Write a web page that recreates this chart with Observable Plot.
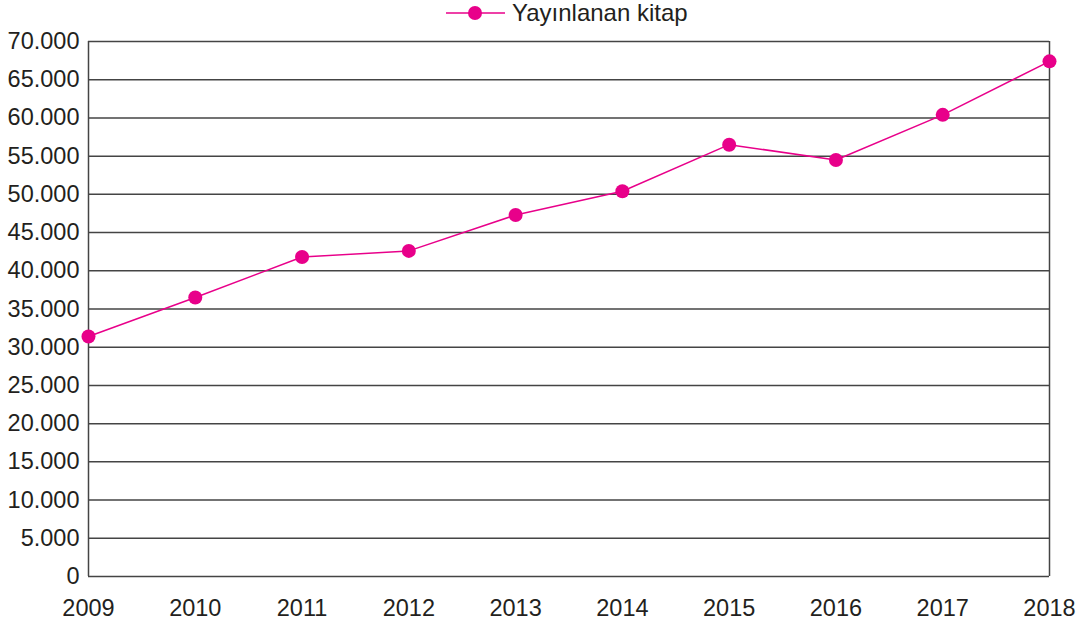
<!DOCTYPE html>
<html><head><meta charset="utf-8">
<script src="https://cdn.jsdelivr.net/npm/d3@7"></script>
<script src="https://cdn.jsdelivr.net/npm/@observablehq/plot@0.6"></script>
<style>
body{margin:0;background:#fff;font-family:"Liberation Sans",Arial,sans-serif;}
#legend{height:28px;position:relative;}
#legend span{position:absolute;left:512px;top:-1px;font-size:24px;color:#231f20;white-space:nowrap;}
</style></head><body>
<div id="legend"><svg width="510" height="28" style="position:absolute;left:0;top:0"><line x1="446" x2="505" y1="13" y2="13" stroke="#e8008a" stroke-width="1.5"/><circle cx="475" cy="13" r="7" fill="#e8008a"/></svg><span>Yayınlanan kitap</span></div>
<div id="chart"></div>
<script>
const years = ["2009","2010","2011","2012","2013","2014","2015","2016","2017","2018"];
const books = [31400, 36500, 41800, 42600, 47300, 50400, 56500, 54500, 60400, 67400];
const yTicks = [0,5000,10000,15000,20000,25000,30000,35000,40000,45000,50000,55000,60000,65000,70000];
const seriesName = "Yayınlanan kitap";
const data = years.map((y,i)=>({year:y, value:books[i]}));
const fmt = d => d === 0 ? "0" : d3.format(",")(d).replace(/,/g,".");
const chart = Plot.plot({
  width:1083, height:598,
  marginTop:13, marginBottom:50, marginLeft:88, marginRight:34,
  style:{fontFamily:"'Liberation Sans', Arial, sans-serif", fontSize:"23.5px", color:"#231f20", background:"#fff"},
  x:{type:"point", domain:years, padding:0, round:false, label:null},
  y:{domain:[0,70000], label:null},
  marks:[
    Plot.ruleY(yTicks, {stroke:"#444", strokeWidth:1.5}),
    Plot.ruleX([years[0], years[years.length-1]], {y1:0, y2:70000, stroke:"#444", strokeWidth:1.5}),
    Plot.axisY(yTicks, {tickSize:0, tickPadding:9, tickFormat:fmt, fontSize:23.5, fill:"#231f20"}),
    Plot.axisX(years, {tickSize:0, tickPadding:23, fontSize:23.5, fill:"#231f20"}),
    Plot.line(data, {x:"year", y:"value", stroke:"#e8008a", strokeWidth:1.5}),
    Plot.dot(data, {x:"year", y:"value", r:7, fill:"#e8008a", stroke:"none"})
  ]
});
document.getElementById("chart").appendChild(chart);
</script>
</body></html>
